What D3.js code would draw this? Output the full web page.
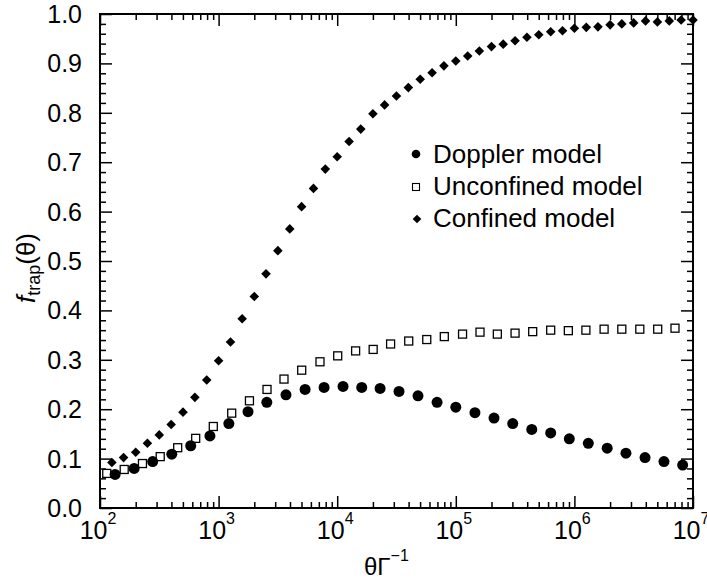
<!DOCTYPE html>
<html>
<head>
<meta charset="utf-8">
<script src="https://cdn.jsdelivr.net/npm/d3@7"></script>
<style>
  body { margin: 0; background: #fff; }
  text { font-family: "Liberation Sans", Arial, sans-serif; fill: #000; }
</style>
</head>
<body>
<div id="chart"></div>
<script>
// f_trap(theta) vs theta/Gamma^-1, three models
var svgWidth = 707;
var svgHeight = 580;
var margin = {top: 14, right: 14, bottom: 72, left: 100};
var width = svgWidth - margin.left - margin.right;
var height = svgHeight - margin.top - margin.bottom;

// data
var dopplerX = [1.34e2, 1.94e2, 2.78e2, 4.03e2, 5.82e2, 8.45e2, 1.22e3, 1.77e3, 2.55e3, 3.70e3,
  5.36e3, 7.75e3, 1.12e4, 1.61e4, 2.30e4, 3.32e4, 4.80e4, 6.95e4, 1.00e5, 1.45e5,
  2.10e5, 3.02e5, 4.37e5, 6.31e5, 9.06e5, 1.31e6, 1.89e6, 2.72e6, 3.94e6, 5.69e6, 8.18e6];
var dopplerY = [0.068, 0.080, 0.094, 0.109, 0.126, 0.146, 0.171, 0.195, 0.214, 0.229,
  0.240, 0.244, 0.246, 0.244, 0.242, 0.236, 0.227, 0.214, 0.204, 0.193,
  0.182, 0.171, 0.159, 0.152, 0.140, 0.131, 0.121, 0.111, 0.102, 0.094, 0.087];

var unconfinedX = [1.14e2, 1.60e2, 2.28e2, 3.22e2, 4.52e2, 6.41e2, 9.02e2, 1.29e3, 1.82e3, 2.56e3,
  3.56e3, 5.02e3, 7.16e3, 1.01e4, 1.43e4, 2.01e4, 2.82e4, 4.01e4, 5.69e4, 8.00e4,
  1.14e5, 1.60e5, 2.24e5, 3.16e5, 4.45e5, 6.31e5, 8.89e5, 1.25e6, 1.78e6, 2.51e6,
  3.56e6, 5.04e6, 7.05e6];
var unconfinedY = [0.070, 0.078, 0.090, 0.104, 0.122, 0.141, 0.165, 0.192, 0.217, 0.240,
  0.261, 0.279, 0.296, 0.308, 0.318, 0.321, 0.332, 0.338, 0.341, 0.347,
  0.352, 0.356, 0.352, 0.354, 0.357, 0.360, 0.359, 0.360, 0.362, 0.362,
  0.362, 0.362, 0.364];

var confinedX = [1.26e2, 1.58e2, 2.00e2, 2.51e2, 3.16e2, 3.98e2, 5.01e2, 6.31e2, 7.94e2, 1.00e3,
  1.26e3, 1.58e3, 2.00e3, 2.51e3, 3.16e3, 3.98e3, 5.01e3, 6.31e3, 7.94e3, 1.00e4,
  1.26e4, 1.58e4, 2.00e4, 2.51e4, 3.16e4, 3.98e4, 5.01e4, 6.31e4, 7.94e4, 1.00e5,
  1.26e5, 1.58e5, 2.00e5, 2.51e5, 3.16e5, 3.98e5, 5.01e5, 6.31e5, 7.94e5, 1.00e6,
  1.26e6, 1.58e6, 2.00e6, 2.51e6, 3.16e6, 3.98e6, 5.01e6, 6.31e6, 7.94e6, 1.00e7];
var confinedY = [0.092, 0.102, 0.113, 0.131, 0.148, 0.169, 0.194, 0.224, 0.259, 0.298,
  0.336, 0.383, 0.428, 0.474, 0.521, 0.565, 0.610, 0.647, 0.686, 0.711,
  0.742, 0.767, 0.798, 0.816, 0.834, 0.851, 0.868, 0.881, 0.895, 0.905,
  0.915, 0.925, 0.934, 0.939, 0.946, 0.953, 0.958, 0.964, 0.966, 0.971,
  0.973, 0.974, 0.978, 0.980, 0.982, 0.986, 0.984, 0.986, 0.988, 0.988];

var xMajor = [1e2, 1e3, 1e4, 1e5, 1e6, 1e7];
var xMajorExp = ["2", "3", "4", "5", "6", "7"];
var yMajor = [0, 0.1, 0.2, 0.3, 0.4, 0.5, 0.6, 0.7, 0.8, 0.9, 1.0];
var legendNames = ["Doppler model", "Unconfined model", "Confined model"];

// SVG
var svg = d3.select("#chart")
  .append("svg")
  .attr("width", svgWidth)
  .attr("height", svgHeight);
var chartGroup = svg.append("g")
  .attr("transform", `translate(${margin.left}, ${margin.top})`);

// scales
var xLogScale = d3.scaleLog().domain([1e2, 1e7]).range([0, width]);
var yLinearScale = d3.scaleLinear().domain([0, 1]).range([height, 0]);

var xMinor = xLogScale.ticks().filter(d => xMajor.indexOf(d) < 0);
var yMinor = yLinearScale.ticks(50).filter(d => Math.round(d * 1000) % 100 != 0);

// axes, ticks drawn inward on all four sides
function addAxis(axis, tx, ty) {
  var g = chartGroup.append("g")
    .attr("transform", `translate(${tx}, ${ty})`)
    .call(axis);
  g.select(".domain").remove();
  g.selectAll("text").remove();
  g.selectAll("line").attr("stroke", "#000").attr("stroke-width", 1.5);
}
addAxis(d3.axisBottom(xLogScale).tickValues(xMajor).tickSizeInner(-12).tickSizeOuter(0), 0, height);
addAxis(d3.axisBottom(xLogScale).tickValues(xMinor).tickSizeInner(-6).tickSizeOuter(0), 0, height);
addAxis(d3.axisTop(xLogScale).tickValues(xMajor).tickSizeInner(-12).tickSizeOuter(0), 0, 0);
addAxis(d3.axisTop(xLogScale).tickValues(xMinor).tickSizeInner(-6).tickSizeOuter(0), 0, 0);
addAxis(d3.axisLeft(yLinearScale).tickValues(yMajor).tickSizeInner(-12).tickSizeOuter(0), 0, 0);
addAxis(d3.axisLeft(yLinearScale).tickValues(yMinor).tickSizeInner(-6).tickSizeOuter(0), 0, 0);
addAxis(d3.axisRight(yLinearScale).tickValues(yMajor).tickSizeInner(-12).tickSizeOuter(0), width, 0);
addAxis(d3.axisRight(yLinearScale).tickValues(yMinor).tickSizeInner(-6).tickSizeOuter(0), width, 0);

chartGroup.append("rect")
  .attr("width", width)
  .attr("height", height)
  .attr("fill", "none")
  .attr("stroke", "#000")
  .attr("stroke-width", 2);

// tick labels
chartGroup.selectAll("text.ylab")
  .data(yMajor)
  .enter()
  .append("text")
  .attr("class", "ylab")
  .attr("x", -18)
  .attr("y", d => yLinearScale(d) + 9)
  .attr("text-anchor", "end")
  .attr("font-size", "25px")
  .text(d => d.toFixed(1));

var xlab = chartGroup.selectAll("text.xlab")
  .data(xMajor)
  .enter()
  .append("text")
  .attr("class", "xlab")
  .attr("x", d => xLogScale(d) - 2)
  .attr("y", height + 31)
  .attr("text-anchor", "middle")
  .attr("font-size", "25px");
xlab.append("tspan").text("10");
xlab.append("tspan")
  .attr("dy", -15)
  .attr("font-size", "16px")
  .text((d, i) => xMajorExp[i]);

// points
chartGroup.selectAll("rect.unconf")
  .data(unconfinedX)
  .enter()
  .append("rect")
  .attr("class", "unconf")
  .attr("x", d => xLogScale(d) - 4)
  .attr("y", (d, i) => yLinearScale(unconfinedY[i]) - 4)
  .attr("width", 8)
  .attr("height", 8)
  .attr("fill", "#fff")
  .attr("stroke", "#000")
  .attr("stroke-width", 1.3);

chartGroup.selectAll("circle.doppler")
  .data(dopplerX)
  .enter()
  .append("circle")
  .attr("class", "doppler")
  .attr("cx", d => xLogScale(d))
  .attr("cy", (d, i) => yLinearScale(dopplerY[i]))
  .attr("r", 5.5)
  .attr("fill", "#000");

var diamond = d3.symbol(d3.symbolSquare, 46);
chartGroup.selectAll("path.conf")
  .data(confinedX)
  .enter()
  .append("path")
  .attr("class", "conf")
  .attr("d", diamond)
  .attr("transform", (d, i) => `translate(${xLogScale(d)}, ${yLinearScale(confinedY[i])}) rotate(45)`)
  .attr("fill", "#000");

// legend
var legend = chartGroup.selectAll("g.legend")
  .data(legendNames)
  .enter()
  .append("g")
  .attr("class", "legend")
  .attr("transform", (d, i) => `translate(316, ${149 + i * 32})`);
legend.append("text")
  .attr("x", 17)
  .attr("y", 0)
  .attr("font-size", "26px")
  .text(d => d);
legend.filter((d, i) => i == 0).append("circle")
  .attr("cx", 0).attr("cy", -9).attr("r", 4.3).attr("fill", "#000");
legend.filter((d, i) => i == 1).append("rect")
  .attr("x", -3.5).attr("y", -11.5).attr("width", 7).attr("height", 7)
  .attr("fill", "#fff").attr("stroke", "#000").attr("stroke-width", 1.1);
legend.filter((d, i) => i == 2).append("path")
  .attr("d", d3.symbol(d3.symbolSquare, 38))
  .attr("transform", "translate(1, -8) rotate(45)")
  .attr("fill", "#000");

// axes labels
var xTitle = svg.append("text")
  .attr("x", 364)
  .attr("y", 575)
  .attr("font-family", "'Liberation Serif', 'Times New Roman', serif")
  .attr("font-size", "24px");
xTitle.append("tspan").text("θΓ");
xTitle.append("tspan").attr("dy", -14).attr("font-size", "16px").text("−1");

var yTitle = svg.append("text")
  .attr("transform", "translate(35, 268) rotate(-90)")
  .attr("text-anchor", "middle")
  .attr("font-size", "26px");
yTitle.append("tspan").attr("font-style", "italic").text("f");
yTitle.append("tspan").attr("dy", 5).attr("font-size", "18px").text("trap");
yTitle.append("tspan").attr("dy", -5).text("(θ)");
</script>
</body>
</html>
